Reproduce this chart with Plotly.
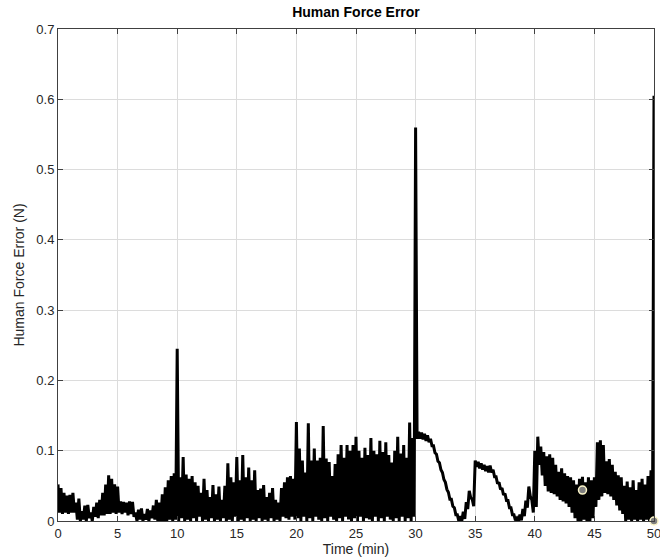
import numpy as np
import plotly.graph_objects as go

# Sample times (min), one sample every 0.25 min
time_min = np.linspace(0, 50, 201)

# Upper (peak) value of the error signal in each sample window (N)
err_upper = [
    0.052, 0.047, 0.040, 0.036, 0.037, 0.040, 0.026, 0.032, 0.014, 0.022,
    0.023, 0.012, 0.020, 0.026, 0.030, 0.040, 0.052, 0.065, 0.060, 0.052,
    0.049, 0.028, 0.027, 0.026, 0.028, 0.027, 0.012, 0.016, 0.018, 0.010,
    0.017, 0.015, 0.022, 0.030, 0.026, 0.038, 0.048, 0.058, 0.064, 0.068,
    0.245, 0.062, 0.091, 0.066, 0.060, 0.064, 0.055, 0.050, 0.040, 0.060,
    0.044, 0.034, 0.051, 0.038, 0.049, 0.030, 0.050, 0.082, 0.062, 0.055,
    0.091, 0.058, 0.094, 0.062, 0.076, 0.058, 0.072, 0.044, 0.046, 0.051,
    0.034, 0.040, 0.047, 0.030, 0.026, 0.047, 0.055, 0.062, 0.064, 0.060,
    0.141, 0.103, 0.086, 0.069, 0.139, 0.086, 0.103, 0.086, 0.090, 0.135,
    0.089, 0.084, 0.064, 0.081, 0.095, 0.108, 0.090, 0.108, 0.100, 0.108,
    0.120, 0.100, 0.090, 0.104, 0.094, 0.118, 0.100, 0.095, 0.114, 0.098,
    0.112, 0.094, 0.083, 0.100, 0.120, 0.096, 0.108, 0.090, 0.140, 0.118,
    0.560, 0.127, 0.126, 0.124, 0.122, 0.117, 0.107, 0.095, 0.083, 0.069,
    0.055, 0.041, 0.031, 0.019, 0.009, 0.007, 0.013, 0.027, 0.043, 0.031,
    0.086, 0.084, 0.082, 0.080, 0.078, 0.079, 0.073, 0.063, 0.055, 0.047,
    0.039, 0.029, 0.019, 0.009, 0.004, 0.009, 0.017, 0.029, 0.049, 0.030,
    0.100, 0.120, 0.106, 0.098, 0.092, 0.095, 0.090, 0.080, 0.070, 0.075,
    0.068, 0.064, 0.062, 0.058, 0.052, 0.060, 0.063, 0.055, 0.062, 0.058,
    0.062, 0.112, 0.115, 0.108, 0.085, 0.088, 0.080, 0.070, 0.065, 0.062,
    0.050, 0.056, 0.048, 0.058, 0.044, 0.055, 0.060, 0.052, 0.064, 0.072,
    0.605,
]

# Lower (trough) value of the error signal in each sample window (N)
err_lower = [
    0.012, 0.010, 0.012, 0.010, 0.012, 0.012, 0.002, 0.000, 0.002, 0.000,
    0.004, 0.000, 0.006, 0.004, 0.008, 0.008, 0.010, 0.010, 0.012, 0.010,
    0.012, 0.010, 0.012, 0.008, 0.010, 0.006, 0.000, 0.002, 0.000, 0.002,
    0.000, 0.004, 0.002, 0.000, 0.000, 0.000, 0.000, 0.002, 0.000, 0.002,
    0.000, 0.004, 0.000, 0.002, 0.000, 0.004, 0.000, 0.006, 0.000, 0.002,
    0.000, 0.004, 0.000, 0.002, 0.000, 0.004, 0.000, 0.002, 0.000, 0.006,
    0.000, 0.002, 0.000, 0.004, 0.000, 0.002, 0.000, 0.004, 0.000, 0.002,
    0.000, 0.004, 0.000, 0.002, 0.000, 0.006, 0.004, 0.002, 0.006, 0.002,
    0.004, 0.000, 0.006, 0.000, 0.004, 0.000, 0.006, 0.002, 0.000, 0.004,
    0.000, 0.006, 0.002, 0.000, 0.004, 0.000, 0.006, 0.002, 0.000, 0.004,
    0.000, 0.006, 0.000, 0.004, 0.002, 0.000, 0.006, 0.000, 0.004, 0.000,
    0.006, 0.002, 0.000, 0.004, 0.000, 0.006, 0.000, 0.004, 0.000, 0.006,
    0.117, 0.117, 0.116, 0.114, 0.112, 0.107, 0.097, 0.085, 0.073, 0.059,
    0.045, 0.031, 0.021, 0.009, 0.000, 0.000, 0.003, 0.017, 0.033, 0.021,
    0.077, 0.075, 0.073, 0.071, 0.069, 0.069, 0.063, 0.053, 0.045, 0.037,
    0.029, 0.019, 0.009, 0.001, 0.000, 0.001, 0.007, 0.019, 0.035, 0.012,
    0.020, 0.080, 0.065, 0.050, 0.042, 0.040, 0.038, 0.035, 0.030, 0.028,
    0.025, 0.020, 0.012, 0.004, 0.000, 0.000, 0.002, 0.000, 0.000, 0.004,
    0.020, 0.030, 0.035, 0.040, 0.038, 0.035, 0.030, 0.022, 0.015, 0.010,
    0.000, 0.002, 0.000, 0.002, 0.000, 0.002, 0.000, 0.002, 0.000, 0.002,
    0.000,
]

# Highlighted data tips
tip_time = [44.0, 50.0]
tip_value = [0.044, 0.0]

x_ticks = [0, 5, 10, 15, 20, 25, 30, 35, 40, 45, 50]
y_ticks = [0, 0.1, 0.2, 0.3, 0.4, 0.5, 0.6, 0.7]

# Build a zig-zag trace (peak then trough within each sample window)
half = (time_min[1] - time_min[0]) / 2
xs, ys = [], []
n = len(time_min)
for i in range(n):
    xs.append(time_min[i]); ys.append(err_upper[i])
    if i < n - 1:
        xs.append(time_min[i] + half); ys.append(err_lower[i])

FONT = "Liberation Sans, Arial, Helvetica, sans-serif"
AX = "#404040"

fig = go.Figure()
fig.add_trace(go.Scatter(x=xs, y=ys, mode="lines",
                         line=dict(color="black", width=3),
                         hoverinfo="skip", showlegend=False))
fig.add_trace(go.Scatter(x=tip_time, y=tip_value, mode="markers",
                         marker=dict(size=8, color="#808080",
                                     line=dict(color="#fbf5c8", width=1.5)),
                         cliponaxis=False, showlegend=False))

axis_common = dict(
    showline=True, linecolor=AX, linewidth=1, mirror="ticks",
    ticks="inside", ticklen=5, tickcolor=AX, tickwidth=1,
    showgrid=True, gridcolor="#dcdcdc", gridwidth=1, zeroline=False,
    tickfont=dict(family=FONT, size=13, color="#262626"),
    ticklabeloverflow="allow",
)

fig.update_layout(
    width=660, height=560,
    margin=dict(l=58, r=6, t=29, b=39, autoexpand=False),
    paper_bgcolor="white", plot_bgcolor="white",
    title=dict(text="<b>Human Force Error</b>", x=(58 + 654) / 2 / 660,
               xanchor="center", y=1 - 12 / 560, yanchor="middle",
               font=dict(family=FONT, size=14, color="black")),
    xaxis=dict(range=[0, 50], tickvals=x_ticks, **axis_common,
               title=dict(text="Time (min)", standoff=0,
                          font=dict(family=FONT, size=14, color="#262626"))),
    yaxis=dict(range=[0, 0.7], tickvals=y_ticks,
               ticktext=[("%g" % v) for v in y_ticks], **axis_common,
               title=dict(text="Human Force Error (N)", standoff=8,
                          font=dict(family=FONT, size=14, color="#262626"))),
)

fig.write_html(
    "out.html",
    config={"displayModeBar": False},
    post_script="document.body.style.margin='0';document.body.style.overflow='hidden';",
)
